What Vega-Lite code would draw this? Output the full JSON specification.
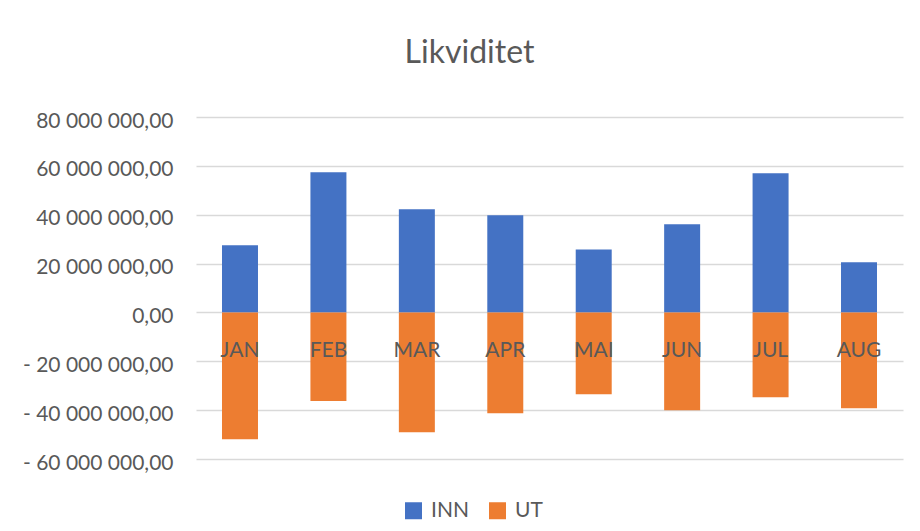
{
  "$schema": "https://vega.github.io/schema/vega-lite/v6.json",
  "autosize": {"type": "none"},
  "padding": {"left": 196, "top": 117, "right": 17, "bottom": 72},
  "width": 707,
  "height": 342,
  "background": "#ffffff",
  "title": {
    "text": "Likviditet",
    "anchor": "middle",
    "frame": "group",
    "dx": -80,
    "fontSize": 32,
    "font": "Lato",
    "fontWeight": "normal",
    "color": "#595959",
    "baseline": "alphabetic",
    "offset": 15
  },
  "data": {
    "values": [
      {"month": "JAN", "series": "INN", "amount": 27500000},
      {"month": "FEB", "series": "INN", "amount": 57400000},
      {"month": "MAR", "series": "INN", "amount": 42200000},
      {"month": "APR", "series": "INN", "amount": 39800000},
      {"month": "MAI", "series": "INN", "amount": 25800000},
      {"month": "JUN", "series": "INN", "amount": 36100000},
      {"month": "JUL", "series": "INN", "amount": 57000000},
      {"month": "AUG", "series": "INN", "amount": 20500000},
      {"month": "JAN", "series": "UT", "amount": -51900000},
      {"month": "FEB", "series": "UT", "amount": -36300000},
      {"month": "MAR", "series": "UT", "amount": -49000000},
      {"month": "APR", "series": "UT", "amount": -41300000},
      {"month": "MAI", "series": "UT", "amount": -33500000},
      {"month": "JUN", "series": "UT", "amount": -40000000},
      {"month": "JUL", "series": "UT", "amount": -34700000},
      {"month": "AUG", "series": "UT", "amount": -39200000}
    ]
  },
  "mark": {"type": "bar"},
  "encoding": {
    "x": {
      "field": "month",
      "type": "nominal",
      "sort": ["JAN", "FEB", "MAR", "APR", "MAI", "JUN", "JUL", "AUG"],
      "scale": {"paddingInner": 0.593, "paddingOuter": 0.294},
      "axis": {
        "title": null,
        "orient": "bottom",
        "offset": -146,
        "zindex": 1,
        "domain": false,
        "ticks": false,
        "grid": false,
        "labelAngle": 0,
        "labelOverlap": false,
        "labelPadding": 26,
        "labelBaseline": "top",
        "labelFont": "Lato",
        "labelFontSize": 21,
        "labelColor": "#595959"
      }
    },
    "y": {
      "field": "amount",
      "type": "quantitative",
      "stack": null,
      "scale": {"domain": [-60000000, 80000000], "nice": false, "zero": true},
      "axis": {
        "title": null,
        "values": [-60000000, -40000000, -20000000, 0, 20000000, 40000000, 60000000, 80000000],
        "domain": false,
        "ticks": false,
        "labelPadding": 23,
        "labelOffset": 4,
        "labelFont": "Lato",
        "labelFontSize": 21,
        "labelColor": "#595959",
        "gridColor": "#d9d9d9",
        "gridWidth": 1.5,
        "labelExpr": "(datum.value < 0 ? '- ' : '') + replace(replace(format(abs(datum.value), ',.2f'), regexp(',', 'g'), ' '), '.', ',')"
      }
    },
    "color": {
      "field": "series",
      "type": "nominal",
      "scale": {"domain": ["INN", "UT"], "range": ["#4472C4", "#ED7D31"]},
      "legend": {
        "title": null,
        "orient": "none",
        "direction": "horizontal",
        "legendX": 207,
        "legendY": 383,
        "symbolType": "square",
        "symbolSize": 289,
        "symbolStrokeWidth": 0,
        "labelFont": "Lato",
        "labelFontSize": 21,
        "labelColor": "#595959",
        "labelOffset": 7,
        "columnPadding": 18
      }
    }
  },
  "config": {
    "view": {"stroke": null}
  }
}
